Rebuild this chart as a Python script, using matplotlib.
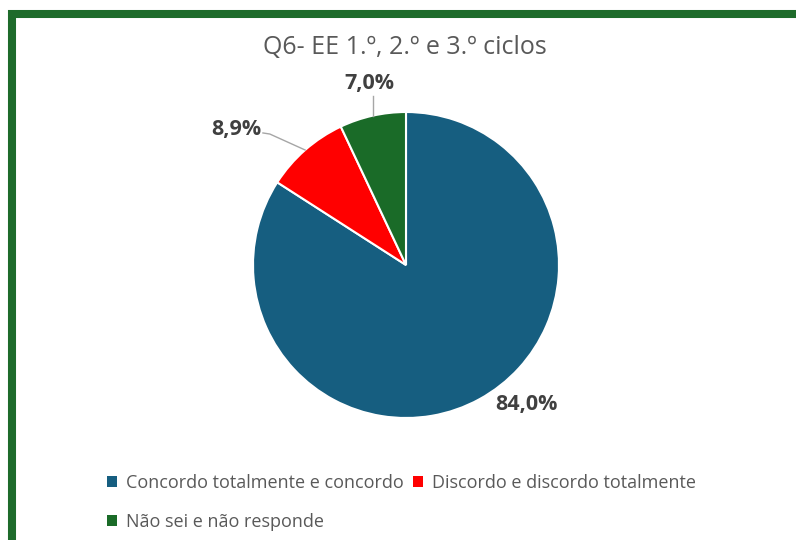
import matplotlib
matplotlib.use("Agg")
import matplotlib.pyplot as plt
from matplotlib.patches import Rectangle, Patch
import numpy as np

categories = ["Concordo totalmente e concordo", "Discordo e discordo totalmente", "Não sei e não responde"]
values = [84.0, 8.9, 7.0]
labels = ["84,0%", "8,9%", "7,0%"]
colors = ["#165E80", "#FF0000", "#1A6B28"]
title = "Q6- EE 1.º, 2.º e 3.º ciclos"

plt.rcParams['font.family'] = ['Open Sans', 'DejaVu Sans']

W, H = 796, 540
fig = plt.figure(figsize=(W/100, H/100), dpi=100)
fig.patch.set_facecolor("white")

# border
fig.patches.append(Rectangle((12/W, -0.5), 2.0, (H-14)/H + 0.5, transform=fig.transFigure,
                             fill=False, edgecolor="#1E6B2B", linewidth=5.8, zorder=0))

cx, cy, r = 406, 265, 153
ax = fig.add_axes([(cx-r)/W, (H-cy-r)/H, 2*r/W, 2*r/H])
wedges, _ = ax.pie(values, colors=colors, startangle=90, counterclock=False,
                   wedgeprops=dict(edgecolor="white", linewidth=1.5), radius=1.0)
ax.set_xlim(-1, 1); ax.set_ylim(-1, 1)
ax.set_aspect('equal')
ax.axis('off')

lab_col = "#404040"
lead_col = "#A6A6A6"
fs = 15.5
def mid(w):
    return np.deg2rad((w.theta1 + w.theta2) / 2)

# 84,0%
ax.text(0.79, -0.91, labels[0], ha='center', va='center', fontsize=fs, fontweight='bold',
        color=lab_col, clip_on=False)
# 8,9%
a = mid(wedges[1])
px, py = np.cos(a), np.sin(a)
ax.plot([px, -0.89, -0.935], [py, 0.856, 0.863], color=lead_col, lw=1, clip_on=False)
ax.text(-1.11, 0.885, labels[1], ha='center', va='center', fontsize=fs, fontweight='bold',
        color=lab_col, clip_on=False)
# 7,0%
a = mid(wedges[2])
px, py = np.cos(a), np.sin(a)
ax.plot([px, px], [py, 1.105], color=lead_col, lw=1, clip_on=False)
ax.text(px - 0.02, 1.185, labels[2], ha='center', va='center', fontsize=fs, fontweight='bold',
        color=lab_col, clip_on=False)

fig.text(405/W, 1 - 47/H, title, ha='center', va='center', fontsize=18, color='#595959')

handles = [Patch(facecolor=c, edgecolor='none') for c in colors]
order = [0, 2, 1]
fig.legend([handles[i] for i in order], [categories[i] for i in order], ncol=2,
           loc='upper left', bbox_to_anchor=(100/W, 1 - 467/H), frameon=False,
           fontsize=13, handlelength=0.55, handleheight=0.55, handletextpad=0.5,
           columnspacing=0.5, labelspacing=1.15, labelcolor='#595959', borderaxespad=0)

fig.savefig("out.png", dpi=100, facecolor="white")
